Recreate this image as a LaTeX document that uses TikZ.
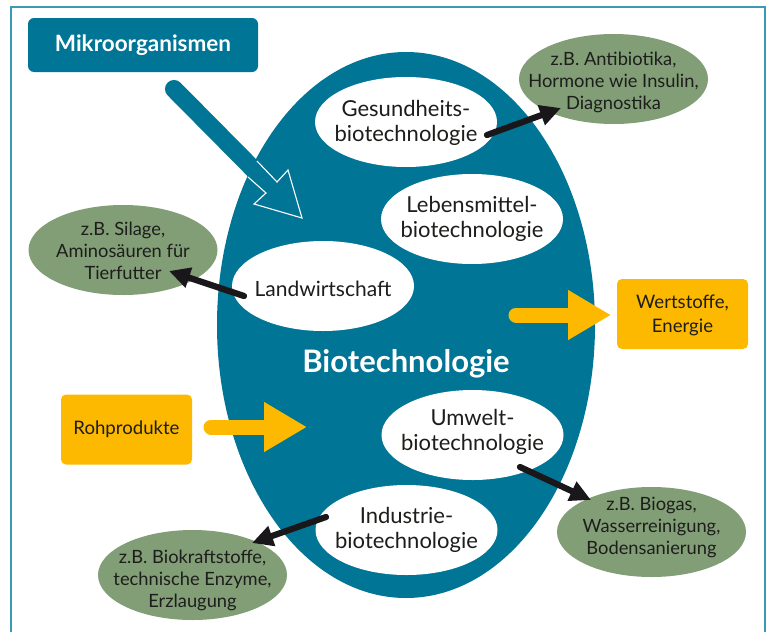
\documentclass[tikz,border=0pt]{standalone}
\usepackage{fontspec}
\setmainfont{Lato}
\usetikzlibrary{shapes.geometric,arrows.meta}
\definecolor{teal1}{HTML}{007596}
\definecolor{frame1}{HTML}{3A9AB5}
\definecolor{yellow1}{HTML}{FDB900}
\definecolor{green1}{HTML}{829E77}
\definecolor{ink}{HTML}{1D1D1B}
\definecolor{blk}{HTML}{1A171B}
\tikzset{
  whiteell/.style={ellipse,fill=white,inner sep=-40pt,minimum width=182pt,minimum height=90pt,align=center,text=ink,text depth=0pt,font=\fontsize{22}{25}\selectfont},
  greenell/.style={ellipse,fill=green1,inner sep=-40pt,minimum width=189pt,minimum height=90pt,align=center,text=ink,text depth=0pt,font=\fontsize{18.3}{22}\selectfont},
  yelbox/.style={rounded corners=5pt,fill=yellow1,inner sep=0pt,minimum width=131pt,minimum height=70pt,align=center,text=ink,font=\fontsize{18.6}{24}\selectfont},
  blackarrow/.style={draw=blk,line width=6.2pt,line cap=round,-{Triangle[length=21pt,width=20pt]}},
  yelarrow/.style={draw=yellow1,line width=15pt,line cap=round,-{Triangle[length=43pt,width=47pt]}},
}
\begin{document}
\begin{tikzpicture}[x=1pt,y=-1pt]
\useasboundingbox (0,0) rectangle (767,632);
\fill[white] (0,0) rectangle (767,632);
\draw[frame1,line width=2pt] (10.5,632) -- (10.5,6.5) -- (765,6.5) -- (765,632);
% main body
\node[ellipse,fill=teal1,inner sep=-60pt,minimum width=378pt,minimum height=546pt] (bio) at (406,325) {};
\node[font=\fontsize{31}{36}\selectfont\bfseries,text=white] (biolabel) at (406,363.5) {Biotechnologie};
% source box
\node[rounded corners=6pt,fill=teal1,inner sep=0pt,minimum width=230pt,minimum height=54pt,text=white,font=\fontsize{22.5}{25}\selectfont\bfseries] (mikro) at (143,45) {Mikroorganismen};
% white ellipses
\node[whiteell,text height=39pt] (gesund) at (406,122) {Gesundheits-\\biotechnologie};
\node[whiteell,text height=37pt] (lebens) at (472,219) {Lebensmittel-\\biotechnologie};
\node[whiteell,text height=20pt,font=\fontsize{21}{25}\selectfont] (land) at (323,286) {Landwirtschaft};
\node[whiteell,text height=30pt] (umwelt) at (472.5,435) {Umwelt-\\biotechnologie};
\node[whiteell,text height=36pt] (indu) at (406.5,530) {Industrie-\\biotechnologie};
% green ellipses
\node[greenell,text height=59pt] (gsil) at (123,250) {z.B. Silage,\\Aminosäuren für\\Tierfutter};
\node[greenell,text height=60pt] (gant) at (613.5,79) {z.B. Antibiotika,\\Hormone wie Insulin,\\Diagnostika};
\node[greenell,text height=44pt] (gbio) at (651.5,532) {z.B. Biogas,\\Wasserreinigung,\\Bodensanierung};
\node[greenell,text height=65pt] (gkra) at (192.5,575) {z.B. Biokraftstoffe,\\technische Enzyme,\\Erzlaugung};
% yellow boxes
\node[yelbox,text height=36pt,text depth=0pt] (wert) at (682.5,314) {Wertstoffe,\\Energie};
\node[yelbox] (roh) at (126.5,429.5) {Rohprodukte};
% connector end points
\coordinate (a1) at (487,135); \coordinate (a2) at (561,108);
\coordinate (b1) at (244,296); \coordinate (b2) at (169,271);
\coordinate (c1) at (520,467); \coordinate (c2) at (591,500);
\coordinate (d1) at (326,517); \coordinate (d2) at (252,543);
\coordinate (e1) at (516,315); \coordinate (e2) at (611,315);
\coordinate (f1) at (211,427); \coordinate (f2) at (307,427);
\coordinate (g1) at (174,89);  \coordinate (g2) at (272,188);
% big micro arrow
\draw[teal1,line width=18pt,line cap=round] (g1) -- (g2);
\fill[teal1] (277,182) -- (288,170) -- (302,218) -- (254,204) -- (266,193) -- cycle;
\draw[white,line width=1.1pt,line join=miter] (257,161) -- (277,182) -- (288,170) -- (302,218) -- (254,204) -- (266,193) -- (248,177);
% arrows
\draw[yelarrow] (e1) -- (e2);
\draw[yelarrow] (f1) -- (f2);
\draw[blackarrow] (a1) -- (a2);
\draw[blackarrow] (b1) -- (b2);
\draw[blackarrow] (c1) -- (c2);
\draw[blackarrow] (d1) -- (d2);
\end{tikzpicture}
\end{document}
